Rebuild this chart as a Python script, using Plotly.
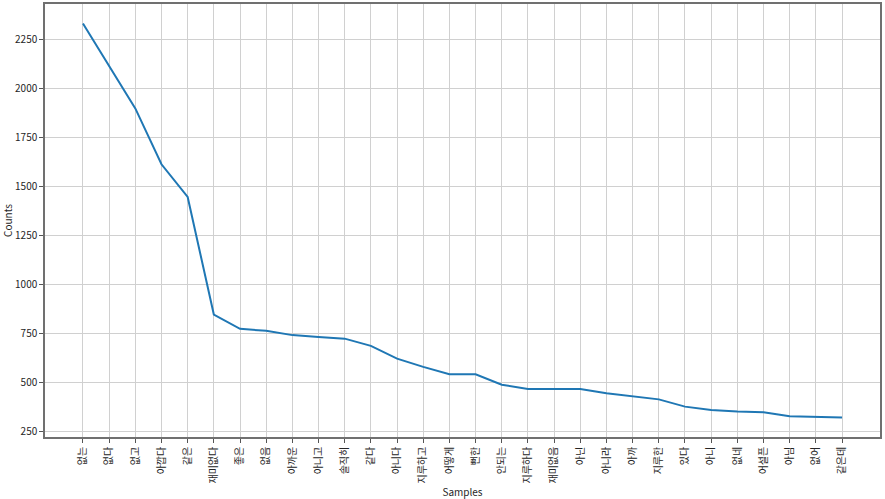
import plotly.graph_objects as go

# samples (words) and their counts
samples = [
    "없는", "없다", "없고", "아깝다", "같은", "재미없다", "좋은", "없음", "아까운", "아니고",
    "솔직히", "같다", "아니다", "지루하고", "어떻게", "뻔한", "안되는", "지루하다", "재미없음", "아닌",
    "아니라", "아까", "지루한", "있다", "아니", "없네", "어설픈", "아님", "없어", "같은데",
]
counts = [
    2330, 2113, 1897, 1612, 1445, 845, 772, 762, 740, 730,
    722, 685, 620, 578, 540, 540, 487, 465, 465, 465,
    443, 428, 412, 375, 358, 350, 346, 326, 322, 320,
]
y_ticks = [250, 500, 750, 1000, 1250, 1500, 1750, 2000, 2250]

positions = list(range(len(samples)))

fig = go.Figure()
fig.add_trace(
    go.Scatter(
        x=positions,
        y=counts,
        mode="lines",
        line=dict(color="#1f77b4", width=2),
        showlegend=False,
    )
)

fig.update_layout(
    width=885,
    height=499,
    margin=dict(l=45, r=5, t=4, b=62),
    paper_bgcolor="white",
    plot_bgcolor="white",
    font=dict(family="Noto Sans CJK KR, Noto Sans", size=10, color="#262626"),
)

fig.update_xaxes(
    range=[-1.45, len(samples) - 1 + 1.45],
    tickvals=positions,
    ticktext=samples,
    tickangle=-90,
    ticks="outside",
    ticklen=4,
    tickcolor="#555555",
    showgrid=True,
    gridcolor="#d0d0d0",
    gridwidth=1,
    zeroline=False,
    showline=True,
    linecolor="#707070",
    linewidth=1.5,
    mirror=True,
    automargin=False,
    title=dict(text="Samples", standoff=6, font=dict(size=10)),
)

fig.update_yaxes(
    range=[220, 2430],
    tickvals=y_ticks,
    ticks="outside",
    ticklen=4,
    tickcolor="#555555",
    showgrid=True,
    gridcolor="#d0d0d0",
    gridwidth=1,
    zeroline=False,
    showline=True,
    linecolor="#707070",
    linewidth=1.5,
    mirror=True,
    automargin=False,
    title=dict(text="Counts", standoff=6, font=dict(size=10)),
)

# the page body has a default 8px margin; drop it so the figure sits at the corner
fig.write_html(
    "out.html",
    config={"displayModeBar": False},
    post_script="document.body.style.margin='0';",
)
